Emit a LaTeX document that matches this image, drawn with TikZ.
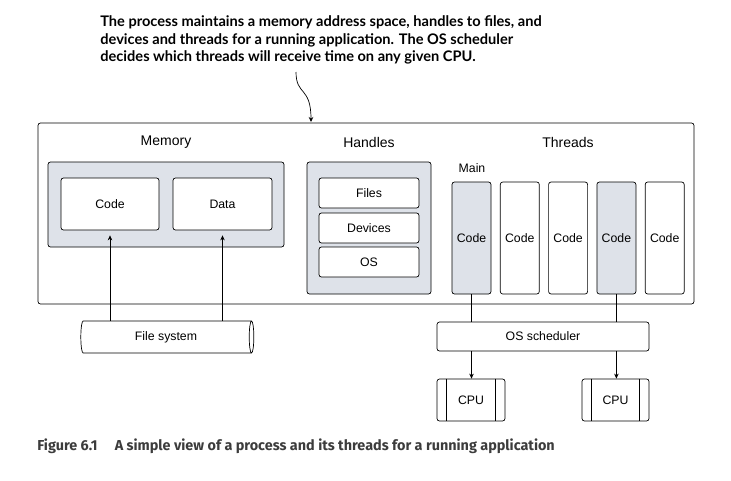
\documentclass[tikz,border=0pt]{standalone}
\usepackage{fontspec}
\setmainfont{Liberation Sans}
\newfontfamily\notefont{Lato}
\newfontfamily\capfont{Fira Sans}
\usetikzlibrary{arrows.meta,shapes.geometric,calc}
\definecolor{BoxGray}{HTML}{DEE2E9}
\definecolor{CaptionGray}{HTML}{3C3C3C}

\begin{document}
\begin{tikzpicture}[x=1pt, y=-1pt, line width=0.7pt,
	box/.style={draw, rounded corners=2.5pt, fill=white, inner sep=0pt, font=\fontsize{12.3}{14}\selectfont},
	graybox/.style={box, fill=BoxGray},
	heading/.style={inner sep=0pt, font=\fontsize{14}{16}\selectfont},
	note/.style={inner sep=0pt, align=left, font=\notefont\bfseries\fontsize{14.6}{17.5}\selectfont},
	caption/.style={inner sep=0pt, text=CaptionGray, font=\capfont\bfseries\fontsize{14.4}{16}\selectfont},
	arr/.style={-{Stealth[length=5pt,width=4.5pt]}}]
	\useasboundingbox (0,0) rectangle (731,480);
	
	\node[note, anchor=north west] (note) at (100,15.5) {The process maintains a memory address space, handles to files, and\\devices and threads for a running application. The OS scheduler\\decides which threads will receive time on any given CPU.};
	\coordinate (wiggle start) at (296,72);
	\coordinate (wiggle end) at (311,122);
	\draw[arr] (wiggle start) .. controls (296,96) and (311,86) .. (wiggle end);
	
	% process
	\node[box, minimum width=656pt, minimum height=181pt] (process) at (366,213.5) {};
	
	\node[heading] (memlabel) at (166,142) {Memory};
	\node[graybox, minimum width=236pt, minimum height=85pt] (memory) at (166,204.5) {};
	\node[box, minimum width=98pt, minimum height=52pt] (code) at (110,204) {Code};
	\node[box, minimum width=99pt, minimum height=52pt] (data) at (222.5,204) {Data};
	
	\node[heading] (handlabel) at (369,142) {Handles};
	\node[graybox, minimum width=124pt, minimum height=132pt] (handles) at (369,228) {};
	\foreach \name/\txt/\y in {files/Files/193, devices/Devices/228, os/OS/262}
		\node[box, minimum width=100pt, minimum height=30pt] (\name) at (369,\y) {\txt};
	
	\node[heading] (threadlabel) at (568,142) {Threads};
	\node[inner sep=0pt, font=\fontsize{12.3}{14}\selectfont] (mainlabel) at (472,168) {Main};
	\foreach \i/\f in {1/BoxGray, 2/white, 3/white, 4/BoxGray, 5/white}
		\node[box, fill=\f, minimum width=39pt, minimum height=112pt] (t\i) at ({471.5+48.3*(\i-1)},238) {Code};
	
	% outside
	\node[draw, cylinder, shape border rotate=0, aspect=0.4, fill=white, minimum width=32pt, minimum height=173pt, inner sep=0pt, font=\fontsize{12.3}{14}\selectfont] (fs) at (166,337) {File system};
	\node[box, minimum width=212pt, minimum height=29pt] (sched) at (543,336.5) {OS scheduler};
	\node[box, minimum width=68pt, minimum height=42pt] (cpu1) at (471,400) {CPU};
	\node[box, minimum width=67pt, minimum height=42pt] (cpu2) at (615.5,400) {CPU};
	\foreach \c in {cpu1,cpu2} {
		\draw ([xshift=10pt]\c.north west) -- ([xshift=10pt]\c.south west);
		\draw ([xshift=-10pt]\c.north east) -- ([xshift=-10pt]\c.south east);
	}
	
	\draw[arr, shorten >=5pt] (code.south |- fs.north) -- (code.south);
	\draw[arr, shorten >=5pt] (data.south |- fs.north) -- (data.south);
	\draw (t1.south) -- (t1.south |- sched.north);
	\draw (t4.south) -- (t4.south |- sched.north);
	\draw[arr] (t1.south |- sched.south) -- (t1.south |- cpu1.north);
	\draw[arr] (t4.south |- sched.south) -- (t4.south |- cpu2.north);
	
	\node[caption, anchor=west] (caption) at (37,446) {Figure 6.1\hspace{1.2em}A simple view of a process and its threads for a running application};
\end{tikzpicture}
\end{document}
